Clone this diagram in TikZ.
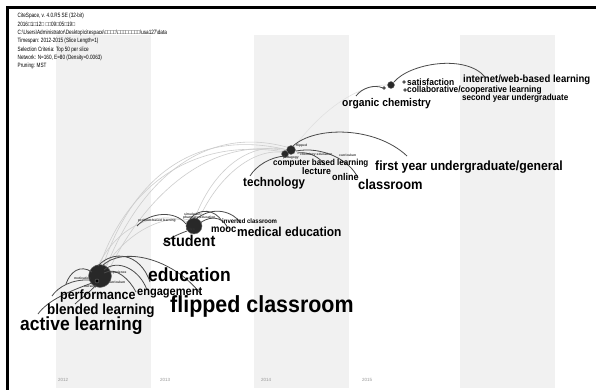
\documentclass[tikz,border=0pt]{standalone}
\usepackage{fontspec}
\setmainfont{Liberation Sans}
\newfontfamily\narrowsans[FakeStretch=0.92]{Liberation Sans}
\usepackage{graphicx}
\usetikzlibrary{positioning}
\definecolor{stripe}{RGB}{241,241,241}
\definecolor{edge}{RGB}{75,75,75}
\definecolor{faint}{RGB}{205,205,205}
\definecolor{hub}{RGB}{40,40,40}
\definecolor{yeargrey}{RGB}{150,150,150}

\begin{document}
\begin{tikzpicture}[x=1pt,y=-1pt,
    term/.style={anchor=west,inner sep=0pt,font=\narrowsans\bfseries\fontsize{#1}{#1}\selectfont},
    tiny/.style={anchor=west,inner sep=0pt,text=black!80,font=\bfseries\fontsize{3.3}{3.3}\selectfont},
    link/.style={edge,line width=0.8pt},
    cross/.style={faint,line width=0.6pt},
    hubnode/.style={circle,fill=hub,draw=black!55,line width=0.4pt,inner sep=0pt,minimum size=#1}]
    \useasboundingbox (0,0) rectangle (596,390);
    % time slices
    \fill[white] (0,0) rectangle (596,390);
    \foreach \x in {56,254,460}
      \fill[stripe] (\x,35) rectangle (\x+95,388);
    \draw[line width=3pt] (7.5,390) -- (7.5,7.5) -- (596,7.5);
    \foreach \yr/\x in {2012/58,2013/160,2014/261,2015/362}
      \node[anchor=west,inner sep=0pt,text=yeargrey,font=\fontsize{4.5}{4.5}\selectfont] (y\yr) at (\x,380) {\yr};
    % run info
    \node[anchor=north west,inner sep=0pt] (info) at (17.5,11.7) {\scalebox{0.75}[1]{\fontsize{6.2}{8.33}\selectfont
      \begin{tabular}{@{}l@{}}
        CiteSpace, v. 4.0.R5 SE (32-bit)\\
        2016□1□12□ □□09□05□19□\\
        C:\textbackslash Users\textbackslash Administrator\textbackslash Desktop\textbackslash citespace\textbackslash □□□□\textbackslash □□□□□□□□\textbackslash usa127\textbackslash data\\
        Timespan: 2012-2015 (Slice Length=1)\\
        Selection Criteria: Top 50 per slice\\
        Network: N=160, E=80 (Density=0.0063)\\
        Pruning: MST
      \end{tabular}}};

    % links across slices
    \draw[cross] (103,266) .. controls (128,190) and (185,125) .. (288,150);
    \draw[cross] (106,268) .. controls (133,196) and (195,120) .. (290,148);
    \draw[cross] (100,265) .. controls (122,200) and (180,135) .. (285,152);
    \draw[cross] (109,270) .. controls (140,205) and (205,132) .. (292,152);
    \draw[cross] (104,268) .. controls (125,235) and (160,214) .. (190,220);
    \draw[cross] (98,266) .. controls (114,232) and (150,208) .. (188,222);
    \draw[cross] (195,218) .. controls (212,172) and (248,140) .. (288,150);
    \draw[cross] (199,219) .. controls (218,176) and (255,146) .. (286,153);
    \draw[cross,faint!60] (295,146) .. controls (322,110) and (358,84) .. (389,85);

    % 2012
    \node[hubnode=23pt] (c12) at (100,276) {};
    \node[hubnode=4pt,fill=black] (c12b) at (97,281) {};
    \draw[link] (92,283) .. controls (70,291) and (48,300) .. (38,314);
    \draw[link] (90,280) .. controls (72,279) and (58,287) .. (52,296);
    \draw[link] (92,272) .. controls (80,264) and (70,272) .. (66,284);
    \draw[link] (96,285) .. controls (88,294) and (80,299) .. (75,304);
    \draw[link] (98,266) .. controls (112,250) and (140,252) .. (150,282);
    \draw[link] (102,266) .. controls (122,246) and (172,258) .. (200,293);
    \draw[link] (104,270) .. controls (118,258) and (140,270) .. (147,290);
    \draw[link] (104,273) .. controls (116,266) and (130,280) .. (136,292);
    \node[tiny] (t12a) at (109,273) {experience};
    \node[tiny] (t12b) at (74,278) {motivation};
    \node[tiny] (t12c) at (108,282) {curriculum};
    \node[tiny] (t12d) at (84,287) {nursing};
    \node[term=19] (alearn) at (20,326) {active learning};
    \node[term=14.6] (blearn) at (47,310.5) {blended learning};
    \node[term=13.5] (perf) at (60,296) {performance};
    \node[term=12] (engage) at (137,292.5) {engagement};
    \node[term=23.3] (flipped) at (170,306.5) {flipped classroom};
    \node[term=19] (educ) at (148,275) {education};

    % 2013
    \node[hubnode=16pt] (c13) at (194,226) {};
    \draw[link] (186,224) .. controls (175,210) and (150,212) .. (137,226);
    \draw[link] (190,219) .. controls (200,207) and (215,210) .. (222,221);
    \draw[link] (196,219) .. controls (214,205) and (233,212) .. (241,223);
    \draw[link] (200,223) .. controls (214,213) and (225,220) .. (228,229);
    \draw[link] (187,231) .. controls (176,235) and (168,239) .. (163,244);
    \node[tiny] (t13a) at (138,221) {problem-based learning};
    \node[tiny] (t13b) at (184,214) {simulation};
    \node[tiny] (t13c) at (183,218) {pharmacy education};
    \node[tiny] (t13d) at (186,229) {video};
    \node[term=6.5] (inverted) at (222,221) {inverted classroom};
    \node[term=15.7] (student) at (163,241) {student};
    \node[term=10.3] (mooc) at (211,229.5) {mooc};
    \node[term=13] (medical) at (237,232) {medical education};

    % 2014
    \node[hubnode=9pt] (c14) at (291,150) {};
    \node[hubnode=7pt] (c14b) at (285,154) {};
    \draw[link] (285,156) .. controls (270,157) and (256,166) .. (250,176);
    \draw[link] (293,146) .. controls (315,126) and (375,126) .. (407,156);
    \draw[link] (296,151) .. controls (322,146) and (350,160) .. (358,178);
    \draw[link] (297,153) .. controls (310,151) and (320,158) .. (325,165);
    \node[tiny] (t14a) at (296,146) {flipped};
    \node[tiny] (t14b) at (283,158) {pedagogy};
    \node[tiny] (t14c) at (300,155) {chemistry education};
    \node[tiny] (t14d) at (339,155) {curriculum};
    \node[term=8.7] (compbased) at (273,163) {computer based learning};
    \node[term=9.5] (lecture) at (302,171) {lecture};
    \node[term=12.6] (technology) at (243,183) {technology};
    \node[term=9.8] (online) at (332,177) {online};
    \node[term=14] (classroom) at (358,184) {classroom};
    \node[term=13.3] (firstyear) at (375,167) {first year undergraduate/general};

    % 2015
    \node[hubnode=7pt] (c15) at (391,85) {};
    \node[hubnode=3pt] (c15b) at (384,88) {};
    \node[hubnode=3pt] (c15c) at (404,82) {};
    \node[hubnode=3pt] (c15d) at (405,90) {};
    \draw[link] (356,96) .. controls (362,88) and (374,84) .. (383,88);
    \draw[link] (394,82) .. controls (410,63) and (466,54) .. (485,77);
    \node[term=9.2] (satisf) at (407,82) {satisfaction};
    \node[term=10.4] (internet) at (463,80) {internet/web-based learning};
    \node[term=9] (collab) at (407,90.5) {collaborative/cooperative learning};
    \node[term=8.8] (secondyr) at (462,98.5) {second year undergraduate};
    \node[term=11.2] (organic) at (342,104) {organic chemistry};
\end{tikzpicture}
\end{document}
